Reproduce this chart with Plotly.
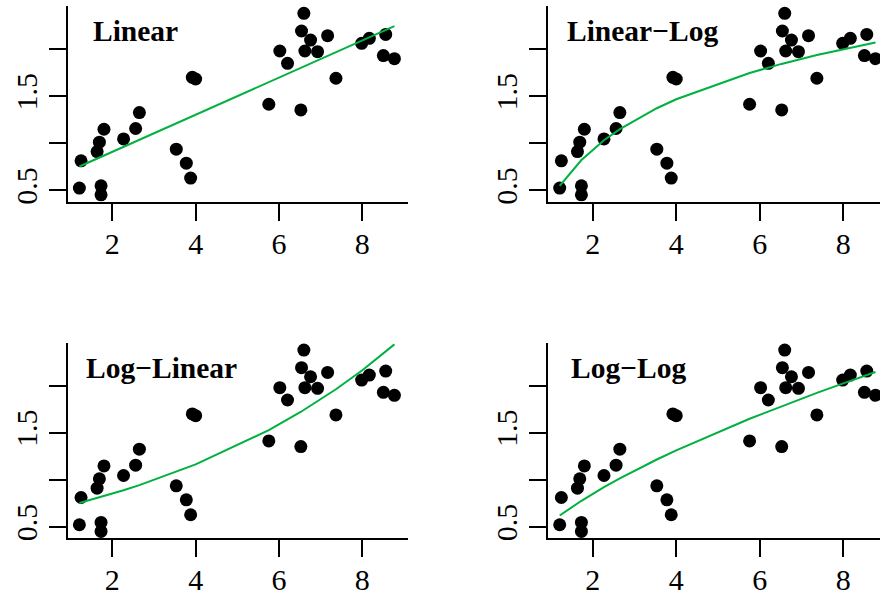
import plotly.graph_objects as go

# ---- data ----
x_vals = [1.25, 1.21, 1.73, 1.73, 1.635, 1.69, 1.80, 2.27, 2.56, 2.65,
          3.535, 3.776, 3.88, 3.92, 4.00, 6.597, 6.541, 6.758, 7.167, 6.02,
          6.621, 6.926, 6.205, 7.367, 5.756, 6.525, 7.984, 8.168, 8.561, 8.505, 8.77]
y_vals = [0.814, 0.525, 0.549, 0.454, 0.913, 1.012, 1.149, 1.047, 1.157, 1.326,
          0.938, 0.789, 0.631, 1.700, 1.682, 2.378, 2.191, 2.095, 2.141, 1.979,
          1.979, 1.972, 1.848, 1.690, 1.414, 1.354, 2.060, 2.113, 2.155, 1.930, 1.898]

fit_x = [1.21, 1.635, 1.73, 2.27, 2.65, 3.535, 4.0, 5.756, 6.52, 7.367, 8.0, 8.77]
fit_linear_x = [1.21, 8.77]
fit_linear = [0.754, 2.242]
fit_linlog = [0.548, 0.780, 0.823, 1.032, 1.151, 1.372, 1.467, 1.746, 1.842, 1.936, 1.999, 2.070]
fit_loglin = [0.756, 0.808, 0.820, 0.891, 0.945, 1.084, 1.165, 1.529, 1.721, 1.962, 2.164, 2.438]
fit_loglog = [0.623, 0.752, 0.779, 0.923, 1.017, 1.217, 1.314, 1.649, 1.783, 1.924, 2.025, 2.145]

panel_titles = ["Linear", "Linear\u2212Log", "Log\u2212Linear", "Log\u2212Log"]
x_tick_vals = [2, 4, 6, 8]
x_tick_text = ["2", "4", "6", "8"]
y_tick_vals = [0.5, 1.0, 1.5, 2.0]
y_tick_text = ["0.5", "", "1.5", ""]

# ---- layout geometry ----
W, H = 880, 597
x_domains = [[68.3 / W, 408 / W], [548.3 / W, 1.0]]
y_domains = [[1 - 201.7 / H, 1 - 6 / H], [1 - 538.3 / H, 1 - 342.7 / H]]
x_ranges = [[0.944, 9.096], [0.937, 8.878]]
y_range = [0.381, 2.456]
title_x = [0.0657, 0.049, 0.045, 0.0625]

fits = [(fit_linear_x, fit_linear), (fit_x, fit_linlog), (fit_x, fit_loglin), (fit_x, fit_loglog)]

FONT = "Liberation Serif"
GREEN = "#00B140"

fig = go.Figure()
layout = dict(
    width=W, height=H,
    margin=dict(l=0, r=0, t=0, b=0),
    paper_bgcolor="white", plot_bgcolor="white",
    showlegend=False,
    annotations=[],
)

for i in range(4):
    row, col = divmod(i, 2)
    n = "" if i == 0 else str(i + 1)
    xa, ya = "x" + n, "y" + n
    fig.add_trace(go.Scatter(
        x=x_vals, y=y_vals, mode="markers", xaxis=xa, yaxis=ya,
        marker=dict(color="black", size=13, line=dict(width=0)),
        hoverinfo="skip"))
    fx, fy = fits[i]
    fig.add_trace(go.Scatter(
        x=fx, y=fy, mode="lines", xaxis=xa, yaxis=ya,
        line=dict(color=GREEN, width=2), hoverinfo="skip"))
    common = dict(
        showline=True, linecolor="black", linewidth=2,
        ticks="outside", ticklen=17, tickwidth=2, tickcolor="black",
        showgrid=False, zeroline=False, automargin=False,
        tickfont=dict(family=FONT, size=30, color="black"),
    )
    layout["xaxis" + n] = dict(
        common, domain=x_domains[col], range=x_ranges[col], anchor=ya,
        tickmode="array", tickvals=x_tick_vals, ticktext=x_tick_text,
        ticklabelstandoff=-3,
    )
    layout["yaxis" + n] = dict(
        common, domain=y_domains[row], range=y_range, anchor=xa,
        tickmode="array", tickvals=y_tick_vals, ticktext=y_tick_text,
        tickangle=-90,
    )
    layout["annotations"].append(dict(
        text="<b>" + panel_titles[i] + "</b>",
        xref=xa + " domain", yref=ya + " domain",
        x=title_x[i], y=0.965, xanchor="left", yanchor="top",
        showarrow=False,
        font=dict(family=FONT, size=29.5, color="black"),
    ))

fig.update_layout(**layout)
fig.write_html("out.html")
